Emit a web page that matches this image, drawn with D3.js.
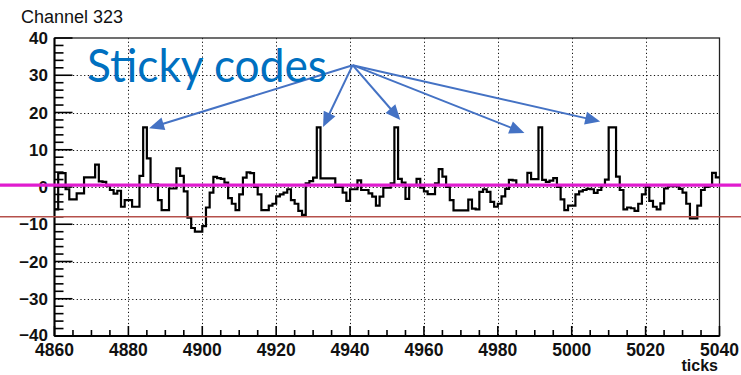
<!DOCTYPE html>
<html>
<head>
<meta charset="utf-8">
<script src="https://cdn.jsdelivr.net/npm/d3@7"></script>
<style>
  html, body { margin: 0; padding: 0; background: #fff; }
  svg { display: block; }
</style>
</head>
<body>
<svg id="chart" width="741" height="375"></svg>
<script>
// ---- data -------------------------------------------------------------
const title = "Channel 323";
const xAxisTitle = "ticks";
const firstTick = 4860;          // left edge of the first bin (1 tick per bin)
// pedestal-subtracted ADC value of each tick, 4860 .. 5039
const adc = [
  -6, 3.7, 3.7, -0.6, -3.3, -3.3, -1.7, -1.7, 2.6, 2.6,
  2.6, 6, 1.5, 1.4, 0.3, -0.8, -1.8, -1, -5.3, -3.5,
  -3.5, -5.3, -5.3, 3, 16, 7.7, 0.7, 0.7, -3.5, -6.2,
  -6.2, -0.4, -0.4, 5, 3, -1.2, -8.2, -11, -12, -12,
  -10.5, -5.5, -1.5, 2.7, 2.4, 2.2, 1.2, -3, -4.5, -6.2,
  -2, 2.5, 3.9, 3.7, 0, -2, -6.2, -6.2, -5, -4.5,
  -2.5, -2, -1.5, -0.6, -3.5, -4.5, -6.4, -7.5, 1, 1.6,
  2.5, 16, 2.3, 2.3, 2.3, 2.3, 0, 0, -1.5, -3.7,
  -0.6, -0.6, 1.8, -0.8, -0.8, -1.7, -2.6, -5, -2.6, -0.2,
  -0.2, 1, 16, 2.2, 1.2, -3.2, 0.5, 0.5, 2.2, -0.2,
  -1.2, -1.9, -1.9, 1, 4.8, 2.8, 0, -3.5, -6.3, -6.3,
  -6.3, -6.3, -3.4, -5.8, -6, -1.3, -0.6, -1.3, -4, -5.3,
  -4.5, -2.5, -0.5, 1.9, 1.8, 0.5, 0.5, 0.5, 3.8, 2.1,
  2.1, 16, 1.9, 1.4, 1.7, 2.4, 0, -3.3, -6.2, -5,
  -5, -2, -1.2, -0.8, -0.5, -0.6, -1.6, -0.8, 0.5, 2,
  16, 16, 2.8, -0.8, -6, -5.5, -5.7, -6.4, -4.5, -2,
  0, -3.7, -5.3, -6, -4.4, -0.4, 0.2, 0.2, 0.2, -0.5,
  -1.5, -4.5, -8.4, -8.4, -5, -0.8, 0, 0.3, 3.8, 2.6
];
const xTickValues = [4860, 4880, 4900, 4920, 4940, 4960, 4980, 5000, 5020, 5040];
const yTickValues = [-40, -30, -20, -10, 0, 10, 20, 30, 40];
const pedestalLevel = 0.5;       // magenta reference line
const thresholdLevel = -8;       // red reference line
const calloutLabel = "Sticky codes";
const calloutOrigin = [4940.7, 32.7];
const calloutTargets = [
  [4885.6, 15.8],
  [4932.7, 16.1],
  [4953.6, 18.0],
  [4987.2, 14.5],
  [5007.7, 17.6]
];

// ---- scales -----------------------------------------------------------
const svg = d3.select("#chart");
const W = 741, H = 375;
const x = d3.scaleLinear().domain([4860, 5040]).range([54.5, 719.5]);
const y = d3.scaleLinear().domain([-40, 40]).range([336, 38]);
const [x0, x1] = x.range();
const [y0, y1] = y.range();

const axisFont = "'Liberation Sans', Arial, Helvetica, sans-serif";

// ---- grid -------------------------------------------------------------
const grid = svg.append("g")
  .attr("stroke", "#111")
  .attr("stroke-width", 1)
  .attr("stroke-dasharray", "1.2,2.5");
grid.selectAll("line.gx")
  .data(xTickValues.slice(1, -1))
  .join("line").attr("class", "gx")
  .attr("x1", d => Math.round(x(d)) + 0.5).attr("x2", d => Math.round(x(d)) + 0.5)
  .attr("y1", y1).attr("y2", y0);
grid.selectAll("line.gy")
  .data(yTickValues.slice(1, -1))
  .join("line").attr("class", "gy")
  .attr("x1", x0).attr("x2", x1)
  .attr("y1", d => Math.round(y(d)) + 0.5).attr("y2", d => Math.round(y(d)) + 0.5);

// ---- frame and axes ---------------------------------------------------
svg.append("rect")
  .attr("x", x0).attr("y", y1)
  .attr("width", x1 - x0).attr("height", y0 - y1)
  .attr("fill", "none").attr("stroke", "#222").attr("stroke-width", 1.3);

const axes = svg.append("g").attr("stroke", "#000");
axes.append("line").attr("x1", x0).attr("x2", x0).attr("y1", y1).attr("y2", y0).attr("stroke-width", 2);
axes.append("line").attr("x1", x0).attr("x2", x1).attr("y1", y0).attr("y2", y0).attr("stroke-width", 2);

// y ticks: major every 10, minor every 2, drawn inward
const yMinor = d3.range(-40, 40.001, 2);
axes.selectAll("line.ty")
  .data(yMinor)
  .join("line").attr("class", "ty")
  .attr("stroke-width", 1.6)
  .attr("x1", x0)
  .attr("x2", d => x0 + (d % 10 === 0 ? 18 : 9))
  .attr("y1", d => y(d)).attr("y2", d => y(d));

// x ticks: major every 20, minor every 5, drawn inward
const xMinor = d3.range(4860, 5040.001, 5);
axes.selectAll("line.tx")
  .data(xMinor)
  .join("line").attr("class", "tx")
  .attr("stroke-width", 1.6)
  .attr("x1", d => x(d)).attr("x2", d => x(d))
  .attr("y1", y0)
  .attr("y2", d => y0 - ((d - 4860) % 20 === 0 ? 10 : 6));

// tick labels
svg.append("g")
  .selectAll("text")
  .data(yTickValues)
  .join("text")
  .attr("x", 48)
  .attr("y", d => y(d) - (d === -40 ? 1.5 : 0))
  .attr("dy", "0.36em")
  .attr("text-anchor", "end")
  .attr("font-family", axisFont)
  .attr("font-weight", "bold")
  .attr("font-size", 17)
  .attr("fill", "#111")
  .text(d => d < 0 ? "\u2212" + Math.abs(d) : String(d));

svg.append("g")
  .selectAll("text")
  .data(xTickValues)
  .join("text")
  .attr("x", d => x(d))
  .attr("y", 355.5)
  .attr("text-anchor", "middle")
  .attr("font-family", axisFont)
  .attr("font-weight", "bold")
  .attr("font-size", 17.5)
  .attr("fill", "#111")
  .text(d => d);

svg.append("text")
  .attr("x", 718).attr("y", 371)
  .attr("text-anchor", "end")
  .attr("font-family", axisFont)
  .attr("font-weight", "bold")
  .attr("font-size", 16)
  .attr("fill", "#111")
  .text(xAxisTitle);

svg.append("text")
  .attr("x", 21).attr("y", 23)
  .attr("font-family", axisFont)
  .attr("font-size", 18)
  .attr("fill", "#111")
  .text(title);

// ---- histogram (step outline) ------------------------------------------
const pts = adc.map((v, i) => [firstTick + i, v]);
pts.push([firstTick + adc.length, adc[adc.length - 1]]);
const step = d3.line()
  .x(d => x(d[0]))
  .y(d => y(d[1]))
  .curve(d3.curveStepAfter);
svg.append("path")
  .attr("d", step(pts))
  .attr("fill", "none")
  .attr("stroke", "#000")
  .attr("stroke-width", 2.2)
  .attr("stroke-linejoin", "miter");

// ---- reference levels ---------------------------------------------------
svg.append("line")
  .attr("x1", 0).attr("x2", W)
  .attr("y1", y(thresholdLevel)).attr("y2", y(thresholdLevel))
  .attr("stroke", "#b5504b").attr("stroke-width", 1.5);
svg.append("line")
  .attr("x1", 0).attr("x2", W)
  .attr("y1", y(pedestalLevel)).attr("y2", y(pedestalLevel))
  .attr("stroke", "#e01ccf").attr("stroke-width", 3.2);

// ---- callout ------------------------------------------------------------
const blue = "#4472c4";
const [ax, ay] = [x(calloutOrigin[0]), y(calloutOrigin[1])];
const arrows = svg.append("g");
calloutTargets.forEach(([tt, tv]) => {
  const tx = x(tt), ty = y(tv);
  const dx = tx - ax, dy = ty - ay;
  const len = Math.hypot(dx, dy);
  const ux = dx / len, uy = dy / len;
  const L = 15, hw = 6.5;
  const bx = tx - ux * L, by = ty - uy * L;
  arrows.append("line")
    .attr("x1", ax).attr("y1", ay)
    .attr("x2", tx - ux * L * 0.7).attr("y2", ty - uy * L * 0.7)
    .attr("stroke", blue).attr("stroke-width", 2);
  arrows.append("path")
    .attr("d", `M${tx},${ty}L${bx - uy * hw},${by + ux * hw}L${bx + uy * hw},${by - ux * hw}Z`)
    .attr("fill", blue);
});

svg.append("text")
  .attr("x", 87).attr("y", 82)
  .attr("font-family", "'Gill Sans', 'Gill Sans MT', Lato, sans-serif")
  .attr("font-size", 46)
  .attr("fill", "#0070c0")
  .attr("textLength", 240)
  .attr("lengthAdjust", "spacingAndGlyphs")
  .text(calloutLabel);
</script>
</body>
</html>
